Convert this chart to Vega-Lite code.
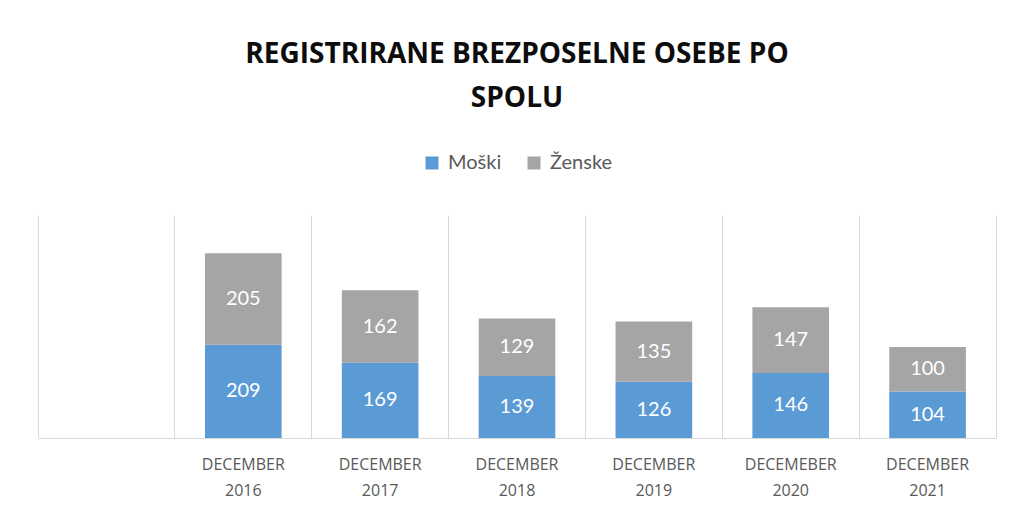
{
  "$schema": "https://vega.github.io/schema/vega-lite/v6.json",
  "width": 958,
  "height": 223,
  "padding": {"left": 38, "right": 15, "top": 41, "bottom": 0},
  "background": "#ffffff",
  "title": {
    "text": ["REGISTRIRANE BREZPOSELNE OSEBE PO", "SPOLU"],
    "font": "Open Sans",
    "fontSize": 28,
    "fontWeight": "bold",
    "color": "#0d0d0d",
    "anchor": "middle",
    "lineHeight": 44,
    "offset": 40
  },
  "data": {
    "values": [
      {"cat": "DECEMBER 2016", "spol": "Moški", "v": 209},
      {"cat": "DECEMBER 2016", "spol": "Ženske", "v": 205},
      {"cat": "DECEMBER 2017", "spol": "Moški", "v": 169},
      {"cat": "DECEMBER 2017", "spol": "Ženske", "v": 162},
      {"cat": "DECEMBER 2018", "spol": "Moški", "v": 139},
      {"cat": "DECEMBER 2018", "spol": "Ženske", "v": 129},
      {"cat": "DECEMBER 2019", "spol": "Moški", "v": 126},
      {"cat": "DECEMBER 2019", "spol": "Ženske", "v": 135},
      {"cat": "DECEMEBER 2020", "spol": "Moški", "v": 146},
      {"cat": "DECEMEBER 2020", "spol": "Ženske", "v": 147},
      {"cat": "DECEMBER 2021", "spol": "Moški", "v": 104},
      {"cat": "DECEMBER 2021", "spol": "Ženske", "v": 100}
    ]
  },
  "encoding": {
    "x": {
      "field": "cat",
      "type": "nominal",
      "sort": null,
      "scale": {
        "domain": ["", "DECEMBER 2016", "DECEMBER 2017", "DECEMBER 2018", "DECEMBER 2019", "DECEMEBER 2020", "DECEMBER 2021"],
        "paddingInner": 0,
        "paddingOuter": 0
      },
      "axis": {
        "title": null,
        "labelAngle": 0,
        "labelExpr": "split(datum.value, ' ')",
        "labelFont": "Open Sans",
        "labelFontSize": 16,
        "labelColor": "#595959",
        "labelLineHeight": 26,
        "labelPadding": 18,
        "labelBaseline": "top",
        "ticks": false,
        "grid": true,
        "gridColor": "#d9d9d9",
        "gridWidth": 1,
        "bandPosition": 0,
        "domainColor": "#d9d9d9",
        "domainWidth": 1
      }
    }
  },
  "layer": [
    {
      "mark": {"type": "bar", "width": {"band": 0.56}},
      "encoding": {
        "y": {
          "field": "v",
          "type": "quantitative",
          "stack": "zero",
          "scale": {"domain": [0, 500]},
          "axis": null
        },
        "color": {
          "field": "spol",
          "type": "nominal",
          "scale": {"domain": ["Moški", "Ženske"], "range": ["#5b9bd5", "#a5a5a5"]},
          "legend": {
            "title": null,
            "orient": "top",
            "direction": "horizontal",
            "labelFont": "Lato",
            "labelFontSize": 20,
            "labelColor": "#595959",
            "symbolType": "square",
            "symbolSize": 169,
            "symbolStrokeWidth": 0,
            "labelOffset": 6,
            "columnPadding": 22,
            "offset": 42
          }
        },
        "order": {"field": "spol", "sort": "ascending"}
      }
    },
    {
      "mark": {"type": "text", "font": "Lato", "fontSize": 20, "color": "#ffffff", "baseline": "middle", "align": "center"},
      "encoding": {
        "y": {
          "field": "v",
          "type": "quantitative",
          "stack": "zero",
          "bandPosition": 0.5,
          "axis": {
            "orient": "right",
            "title": null,
            "labels": false,
            "ticks": false,
            "grid": false,
            "domain": true,
            "domainColor": "#d9d9d9",
            "domainWidth": 1
          }
        },
        "detail": {"field": "spol"},
        "order": {"field": "spol", "sort": "ascending"},
        "text": {"field": "v", "type": "quantitative"}
      }
    }
  ],
  "resolve": {"axis": {"y": "independent"}},
  "config": {
    "view": {"stroke": null},
    "legend": {"layout": {"top": {"anchor": "middle"}}}
  }
}
